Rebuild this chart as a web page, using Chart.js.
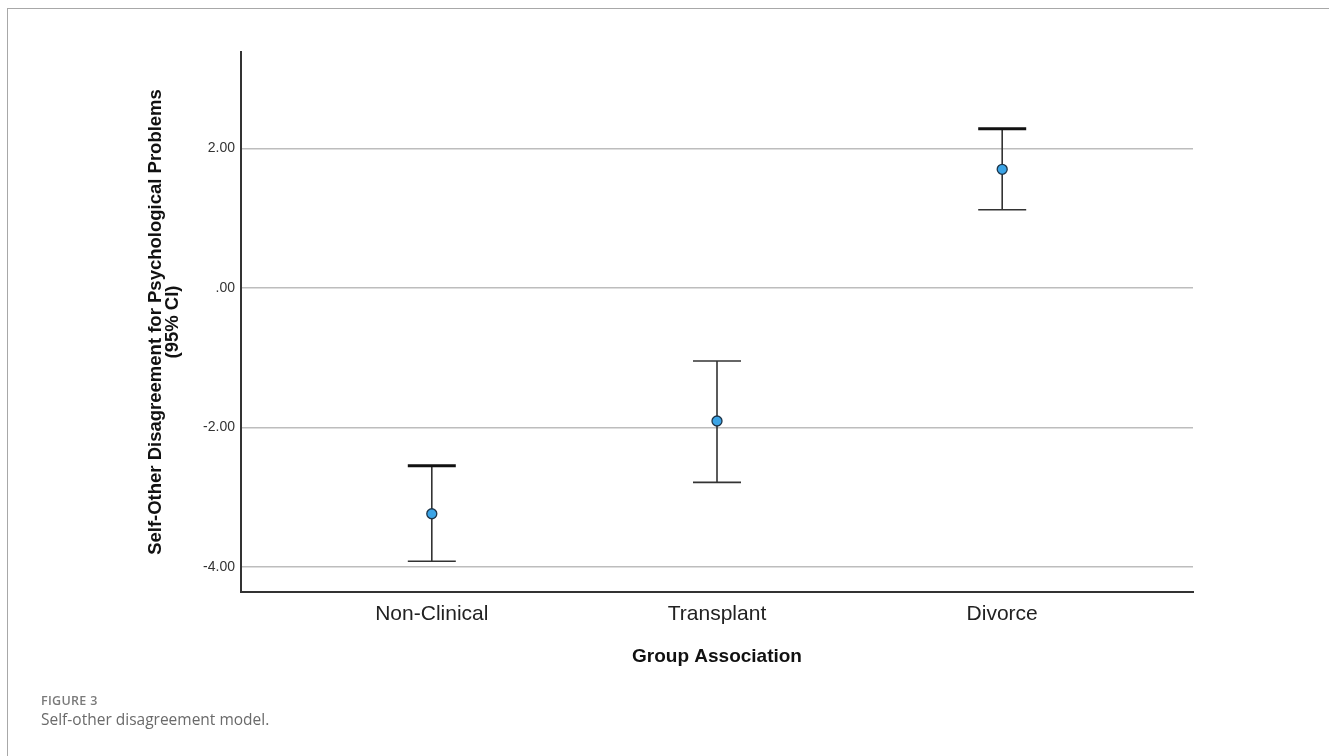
<!DOCTYPE html>
<html>
<head>
<meta charset="utf-8">
<script src="https://cdn.jsdelivr.net/npm/chart.js@4/dist/chart.umd.min.js"></script>
<style>
  html, body { margin: 0; padding: 0; background: #fff; }
  body { width: 1329px; height: 756px; position: relative; overflow: hidden; }
  #frame { position: absolute; left: 7px; top: 8px; width: 1400px; height: 800px;
           border-left: 1px solid #a8a8a8; border-top: 1px solid #a8a8a8; }
  #c { position: absolute; left: 0; top: 0; }
  .fig { position: absolute; left: 41px; top: 692px; font-family: "Open Sans", sans-serif;
         font-size: 12.5px; font-weight: 600; color: #7a7a7a; letter-spacing: 0.3px; }
  .cap { position: absolute; left: 41px; top: 708px; font-family: "Open Sans", sans-serif;
         font-size: 15.5px; color: #6a6a6a; }
</style>
</head>
<body>
<div id="frame"></div>
<canvas id="c" width="1329" height="756"></canvas>
<div class="fig">FIGURE 3</div>
<div class="cap">Self-other disagreement model.</div>
<script>
// values
const categories = ['Non-Clinical', 'Transplant', 'Divorce'];
const means = [-3.24, -1.91, 1.70];
const upper = [-2.55, -1.05, 2.28];
const lower = [-3.92, -2.79, 1.12];
const yTicks = [-4, -2, 0, 2];

// draws the 95% CI whiskers from the scales
const errorBars = {
    id: 'errorBars',
    beforeDatasetsDraw(chart, args, opts) {
        const { ctx, scales: { x, y } } = chart;
        ctx.save();
        ctx.strokeStyle = '#333';
        categories.forEach((c, i) => {
            const px = x.getPixelForValue(i + 1);
            const top = y.getPixelForValue(upper[i]);
            const bot = y.getPixelForValue(lower[i]);
            ctx.lineWidth = 1.6;
            ctx.beginPath();
            ctx.moveTo(px, top);
            ctx.lineTo(px, bot);
            ctx.moveTo(px - opts.cap, bot);
            ctx.lineTo(px + opts.cap, bot);
            ctx.stroke();
            ctx.lineWidth = opts.topWeight[i];
            ctx.strokeStyle = opts.topWeight[i] > 2 ? '#111' : '#333';
            ctx.beginPath();
            ctx.moveTo(px - opts.cap, top);
            ctx.lineTo(px + opts.cap, top);
            ctx.stroke();
            ctx.strokeStyle = '#333';
        });
        ctx.restore();
    }
};

new Chart(document.getElementById('c'), {
    type: 'scatter',
    data: {
        datasets: [{
            data: means.map((m, i) => ({ x: i + 1, y: m })),
            pointRadius: 5,
            pointHoverRadius: 5,
            backgroundColor: '#3ba4e6',
            borderColor: '#1d3448',
            borderWidth: 1.3,
        }],
    },
    options: {
        responsive: false,
        animation: false,
        events: [],
        layout: { padding: { left: 147, top: 52, right: 136, bottom: 84 } },
        plugins: {
            legend: { display: false },
            tooltip: { enabled: false },
            errorBars: { cap: 24, topWeight: [3, 1.6, 3] },
        },
        scales: {
            x: {
                type: 'linear',
                min: 0.331,
                max: 3.669,
                afterBuildTicks: (s) => { s.ticks = categories.map((c, i) => ({ value: i + 1 })); },
                afterFit: (s) => { s.height = 80; },
                grid: { display: false },
                border: { display: true, color: '#333', width: 2 },
                ticks: {
                    padding: 2,
                    color: '#222',
                    font: { family: 'Liberation Sans, Arial', size: 21 },
                    callback: (v) => categories[v - 1],
                },
                title: {
                    display: true,
                    text: 'Group Association',
                    color: '#111',
                    padding: { top: 17 },
                    font: { family: 'Liberation Sans, Arial', size: 19, weight: 'bold' },
                },
            },
            y: {
                min: -4.362,
                max: 3.382,
                afterBuildTicks: (s) => { s.ticks = yTicks.map((v) => ({ value: v })); },
                afterFit: (s) => { s.width = 94; },
                grid: { color: '#bdbdbd', lineWidth: 1.5, drawTicks: false },
                border: { display: true, color: '#333', width: 2 },
                ticks: {
                    padding: 6,
                    color: '#333',
                    font: { family: 'Liberation Sans, Arial', size: 14 },
                    callback: (v) => v.toFixed(2).replace(/^(-?)0\./, '$1.'),
                },
                title: {
                    display: true,
                    text: ['Self-Other Disagreement for Psychological Problems', '(95% CI)'],
                    color: '#111',
                    padding: 0,
                    font: { family: 'Liberation Sans, Arial', size: 18.5, weight: 'bold', lineHeight: 0.95 },
                },
            },
        },
    },
    plugins: [errorBars],
});
</script>
</body>
</html>
